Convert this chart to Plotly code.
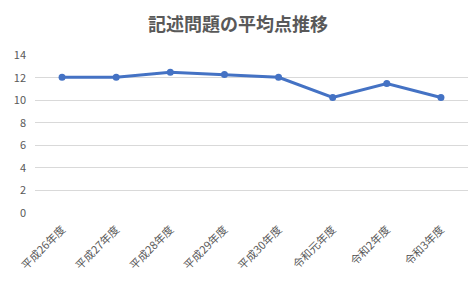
import plotly.graph_objects as go

categories = ["平成26年度", "平成27年度", "平成28年度", "平成29年度", "平成30年度", "令和元年度", "令和2年度", "令和3年度"]
values = [12.05, 12.05, 12.5, 12.3, 12.05, 10.25, 11.5, 10.25]
y_ticks = [0, 2, 4, 6, 8, 10, 12, 14]
title_text = "記述問題の平均点推移"

font_family = "Noto Sans CJK JP"

fig = go.Figure()
fig.add_trace(go.Scatter(
    x=categories, y=values, mode="lines+markers",
    line=dict(color="#4472C4", width=3),
    marker=dict(color="#4472C4", size=7),
    hoverinfo="skip",
))
fig.update_layout(
    width=476, height=288,
    margin=dict(l=35, r=8, t=55, b=75),
    paper_bgcolor="white", plot_bgcolor="white",
    showlegend=False,
    title=dict(text="<b>" + title_text + "</b>", x=0.5, xanchor="center", y=0.915, yanchor="middle",
               font=dict(family=font_family, size=18, color="#595959")),
    font=dict(family=font_family, color="#595959", size=11),
)
fig.update_xaxes(
    type="category", tickangle=-45, showgrid=False, showline=False, zeroline=False,
    tickfont=dict(family=font_family, size=11, color="#595959"),
    ticks="", ticklabelstandoff=7, range=[-0.5, len(categories) - 0.5],
)
fig.update_yaxes(
    range=[-0.03, 14.03], tickvals=y_ticks, showgrid=True, gridcolor="#d9d9d9", gridwidth=1,
    zeroline=False, showline=False, ticks="", ticklabelstandoff=8,
    tickfont=dict(family=font_family, size=11, color="#595959"),
)
fig.write_html("out.html")
